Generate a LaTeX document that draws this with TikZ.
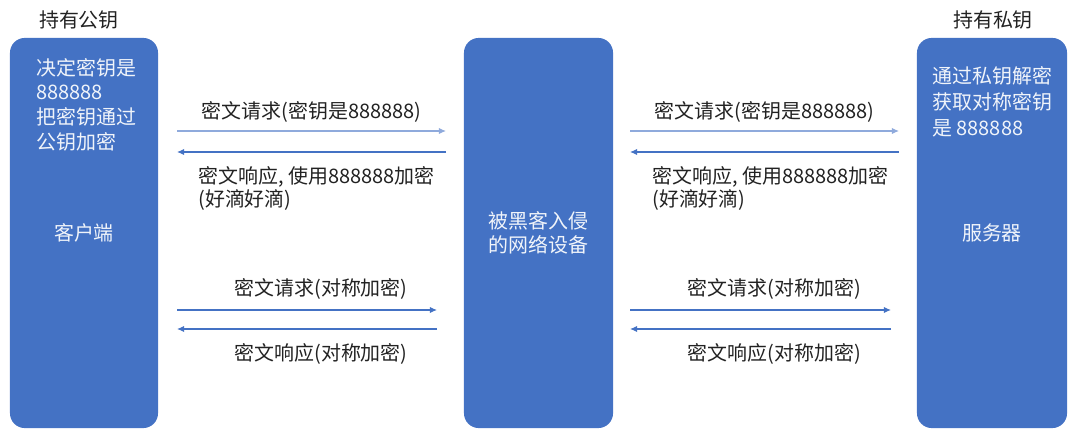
\documentclass[tikz,border=0pt]{standalone}
\usepackage{fontspec}
\setmainfont{Noto Sans CJK SC}
\usetikzlibrary{arrows.meta,positioning}
\definecolor{boxblue}{HTML}{4472C4}
\definecolor{lineblue}{HTML}{4472C4}
\definecolor{paleblue}{HTML}{8FAADC}
\definecolor{inktext}{HTML}{222222}

\begin{document}
\begin{tikzpicture}[x=0.025cm, y=-0.025cm, >={Latex[length=5pt,width=4.5pt]},
font=\fontsize{14.2}{17}\selectfont, text=inktext,
party/.style={fill=boxblue, rounded corners=10.5pt, minimum height=9.75cm, inner sep=0pt, align=center, text=white!92!boxblue},
note/.style={inner sep=0pt, align=left, anchor=north west, text=white!92!boxblue, font=\fontsize{14.2}{17.5}\selectfont},
msg/.style={inner sep=0pt, align=left, font=\fontsize{14.2}{16.5}\selectfont},
req/.style={->, line width=0.85pt, draw=paleblue},
resp/.style={->, line width=0.85pt, draw=lineblue}]
\useasboundingbox (0,0) rectangle (1092,439);

\node (pubkey) at (79,20) {持有公钥};
\node (privkey) at (993,20) {持有私钥};
\node[party, minimum width=3.7cm] (client) at (84,233) {客户端};
\node[party, minimum width=3.725cm] (mitm) at (538.5,233) {被黑客入侵\\的网络设备};
\node[party, minimum width=3.75cm] (server) at (992,233) {服务器};
\node[note] (cnote) at (36,58) {决定密钥是\\888888\\把密钥通过\\公钥加密};
\node[note, font=\fontsize{14.2}{18.5}\selectfont] (snote) at (932,66) {通过私钥解密\\获取对称密钥\\是 888888};

% upper exchange
\coordinate (a1) at (177,131); \coordinate (b1) at (446,131);
\coordinate (a2) at (177,152); \coordinate (b2) at (446,152);
\coordinate (c1) at (630,131); \coordinate (d1) at (899,131);
\coordinate (c2) at (630,152); \coordinate (d2) at (899,152);
\draw[req] (a1) -- node[msg, above=6pt] {密文请求(密钥是888888)} (b1);
\draw[resp] (b2) -- (a2);
\draw[req] (c1) -- node[msg, above=6pt] {密文请求(密钥是888888)} (d1);
\draw[resp] (d2) -- (c2);
\node[msg, anchor=north west] (resp1) at (198,166) {密文响应, 使用888888加密\\(好滴好滴)};
\node[msg, anchor=north west] (resp2) at (652,166) {密文响应, 使用888888加密\\(好滴好滴)};

% lower exchange
\coordinate (a3) at (177,310); \coordinate (b3) at (437,310);
\coordinate (a4) at (177,329); \coordinate (b4) at (437,329);
\coordinate (c3) at (630,310); \coordinate (d3) at (891,310);
\coordinate (c4) at (630,329); \coordinate (d4) at (891,329);
\draw[resp] (a3) -- node[msg, above=7pt, xshift=10pt] {密文请求(对称加密)} (b3);
\draw[resp] (b4) -- node[msg, below=10pt, xshift=10pt] {密文响应(对称加密)} (a4);
\draw[resp] (c3) -- node[msg, above=7pt, xshift=10pt] {密文请求(对称加密)} (d3);
\draw[resp] (d4) -- node[msg, below=10pt, xshift=10pt] {密文响应(对称加密)} (c4);
\end{tikzpicture}
\end{document}
